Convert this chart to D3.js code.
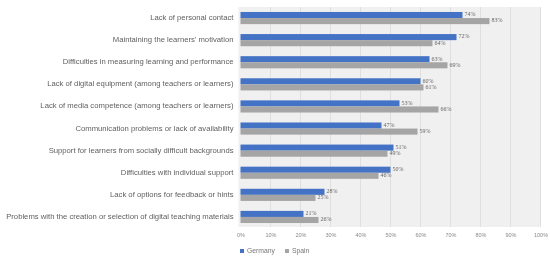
<!DOCTYPE html>
<html>
<head>
<meta charset="utf-8">
<script src="https://cdn.jsdelivr.net/npm/d3@7"></script>
<style>
  body { margin: 0; background: #fff; }
  svg { font-family: "Liberation Sans", Arial, sans-serif; will-change: transform; }
</style>
</head>
<body>
<svg width="550" height="259"></svg>
<script>
const categories = [
  "Lack of personal contact",
  "Maintaining the learners' motivation",
  "Difficulties in measuring learning and performance",
  "Lack of digital equipment (among teachers or learners)",
  "Lack of media competence (among teachers or learners)",
  "Communication problems or lack of availability",
  "Support for learners from socially difficult backgrounds",
  "Difficulties with individual support",
  "Lack of options for feedback or hints",
  "Problems with the creation or selection of digital teaching materials"
];
const germany = [74, 72, 63, 60, 53, 47, 51, 50, 28, 21];
const spain = [83, 64, 69, 61, 66, 59, 49, 46, 25, 26];
const seriesNames = ["Germany", "Spain"];
const ticks = [0, 10, 20, 30, 40, 50, 60, 70, 80, 90, 100];

var svg = d3.select("svg"),
    left = 240.5,
    right = 540.5,
    bg_top = 7,
    bottom = 227;

const colors = ["#4472C4", "#A5A5A5"];

var x = d3.scaleLinear([0, 100], [left, right]);
var y = d3.scaleBand(categories, [7, 228]).paddingInner(0.45).paddingOuter(0.225);
var sub = d3.scaleBand([0, 1], [0, y.bandwidth()]);

// background
svg.append("rect")
    .attr("x", left - 2).attr("y", bg_top)
    .attr("width", right - left + 2).attr("height", bottom - bg_top)
    .attr("fill", "#f0f0f0");

// grid
svg.append("g")
    .selectAll("line")
    .data(ticks.slice(1))
    .enter().append("line")
    .attr("x1", d => x(d)).attr("x2", d => x(d))
    .attr("y1", bg_top).attr("y2", bottom)
    .attr("stroke", "#dadada")
    .attr("stroke-width", 0.8);

// x axis labels
svg.append("g")
    .attr("transform", "translate(0," + (bottom + 3) + ")")
    .call(d3.axisBottom(x).tickValues(ticks).tickFormat(d => d + "%").tickSize(0))
    .call(g => g.select(".domain").remove())
    .selectAll("text")
    .attr("fill", "#8a8a8a")
    .style("font-size", "5.5px");

// category labels
svg.append("g")
    .selectAll("text")
    .data(categories)
    .enter().append("text")
    .attr("x", left - 7)
    .attr("y", d => y(d) + y.bandwidth() / 2)
    .attr("text-anchor", "end")
    .attr("dominant-baseline", "middle")
    .attr("fill", "#5f5f5f")
    .style("font-size", "7.7px")
    .text(d => d);

// bars
[germany, spain].forEach(function(vals, s) {
    var g = svg.append("g");
    g.selectAll("rect")
        .data(vals)
        .enter().append("rect")
        .attr("x", x(0))
        .attr("y", (d, i) => y(categories[i]) + sub(s))
        .attr("width", d => x(d) - x(0))
        .attr("height", sub.bandwidth())
        .attr("fill", colors[s]);
    g.selectAll("text")
        .data(vals)
        .enter().append("text")
        .attr("x", d => x(d) + 2)
        .attr("y", (d, i) => y(categories[i]) + sub(s) + sub.bandwidth() / 2)
        .attr("dominant-baseline", "middle")
        .attr("fill", "#666")
        .style("font-size", "6px")
        .style("font-family", "'Liberation Serif', serif")
        .text(d => d + "%");
});

// legend
var leg = svg.append("g").attr("transform", "translate(240,251)");
seriesNames.forEach(function(n, i) {
    var lx = i * 45;
    leg.append("rect").attr("x", lx).attr("y", -2).attr("width", 4).attr("height", 4).attr("fill", colors[i]);
    leg.append("text").attr("x", lx + 7).attr("y", 0)
        .attr("dominant-baseline", "middle")
        .attr("fill", "#777")
        .style("font-size", "6.8px")
        .text(n);
});
</script>
</body>
</html>
